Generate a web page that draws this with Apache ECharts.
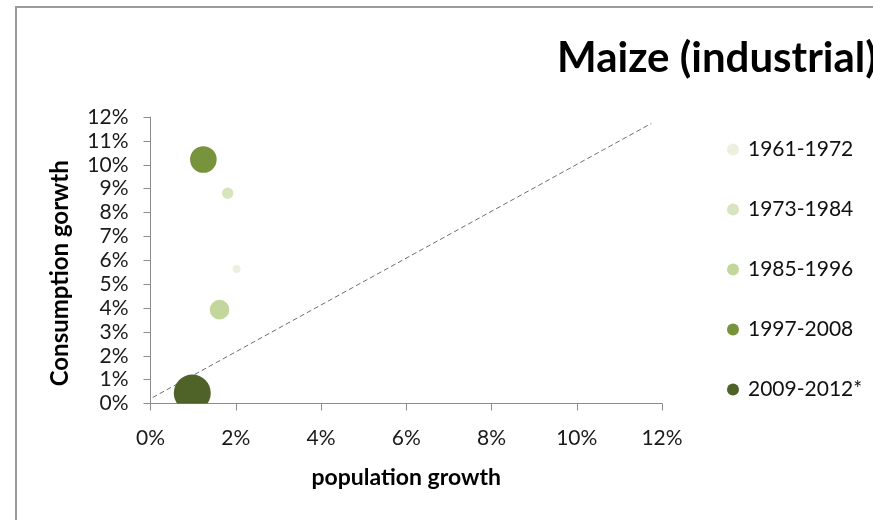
<!DOCTYPE html>
<html>
<head>
<meta charset="utf-8">
<script src="https://cdn.jsdelivr.net/npm/echarts@6/dist/echarts.min.js"></script>
<style>
  html, body { margin: 0; padding: 0; background: #fff; }
  #chart { width: 873px; height: 520px; }
</style>
</head>
<body>
<div id="chart"></div>
<script>
// bubble periods
const periods = ["1961-1972", "1973-1984", "1985-1996", "1997-2008", "2009-2012*"];
const popGrowth = [2.02, 1.81, 1.62, 1.24, 0.98];     // x, %
const consGrowth = [5.63, 8.81, 3.93, 10.22, 0.44];   // y, %
const bubbleSize = [16, 32, 96, 177, 342];            // relative bubble area
const colors = ["#ebf1de", "#d7e4bd", "#c3d69b", "#77933c", "#4f6228"];

// dashed reference line (x = y)
const refX = [0.05, 11.75];
const refY = [0.25, 11.73];

const xTicks = { min: 0, max: 12, interval: 2 };
const yTicks = { min: 0, max: 12, interval: 1 };

const font = "Lato, 'Open Sans', sans-serif";

const chart = echarts.init(document.getElementById("chart"), null, { renderer: "canvas" });

const bubbleSeries = periods.map((name, i) => ({
  name: name,
  type: "custom",
  clip: true,
  color: colors[i],
  data: [[popGrowth[i], consGrowth[i], bubbleSize[i]]],
  renderItem: (params, api) => {
    const p = api.coord([api.value(0), api.value(1)]);
    return {
      type: "circle",
      shape: { cx: p[0], cy: p[1], r: Math.sqrt(api.value(2)) },
      style: { fill: colors[i] },
    };
  },
  z: 3,
}));

chart.setOption({
  animation: false,
  backgroundColor: "#fff",
  graphic: [
    {
      type: "rect",
      shape: { x: 16, y: 7, width: 1000, height: 1000 },
      style: { fill: "none", stroke: "#9a9a9a", lineWidth: 2 },
      silent: true,
    },
  ],
  title: {
    text: "Maize (industrial)",
    left: 557,
    top: 37,
    padding: 0,
    textStyle: { fontFamily: font, fontSize: 42, fontWeight: "bold", color: "#000" },
  },
  legend: {
    orient: "vertical",
    left: 727,
    top: 139,
    itemWidth: 12,
    itemHeight: 12,
    itemGap: 39,
    padding: 0,
    data: periods.map(p => ({ name: p, icon: "circle" })),
    textStyle: { fontFamily: font, fontSize: 21, color: "#111", padding: [0, 0, 0, 4] },
  },
  grid: { left: 150.5, right: 211, top: 117, bottom: 116.5, containLabel: false },
  xAxis: {
    type: "value",
    min: xTicks.min,
    max: xTicks.max,
    interval: xTicks.interval,
    name: "population growth",
    nameLocation: "middle",
    nameGap: 63,
    nameTextStyle: { fontFamily: font, fontSize: 23, fontWeight: "bold", color: "#000" },
    splitLine: { show: false },
    axisLine: { lineStyle: { color: "#8c8c8c", width: 1 } },
    axisTick: { show: true, length: 7, lineStyle: { color: "#8c8c8c" } },
    axisLabel: { formatter: "{value}%", margin: 24, fontFamily: font, fontSize: 21, color: "#1a1a1a" },
  },
  yAxis: {
    type: "value",
    min: yTicks.min,
    max: yTicks.max,
    interval: yTicks.interval,
    name: "Consumption gorwth",
    nameLocation: "middle",
    nameRotate: 90,
    nameGap: 78,
    nameTextStyle: { fontFamily: font, fontSize: 24, fontWeight: "bold", color: "#000", padding: [0, 26, 0, 0] },
    splitLine: { show: false },
    axisLine: { show: true, lineStyle: { color: "#8c8c8c", width: 1 } },
    axisTick: { show: true, length: 7, lineStyle: { color: "#8c8c8c" } },
    axisLabel: { formatter: "{value}%", margin: 22, fontFamily: font, fontSize: 21, color: "#1a1a1a" },
  },
  series: [
    {
      name: "ref",
      type: "line",
      data: refX.map((x, i) => [x, refY[i]]),
      symbol: "none",
      silent: true,
      lineStyle: { color: "#6e6e6e", width: 1, type: [5, 3] },
      z: 2,
    },
    ...bubbleSeries,
  ],
});
</script>
</body>
</html>
